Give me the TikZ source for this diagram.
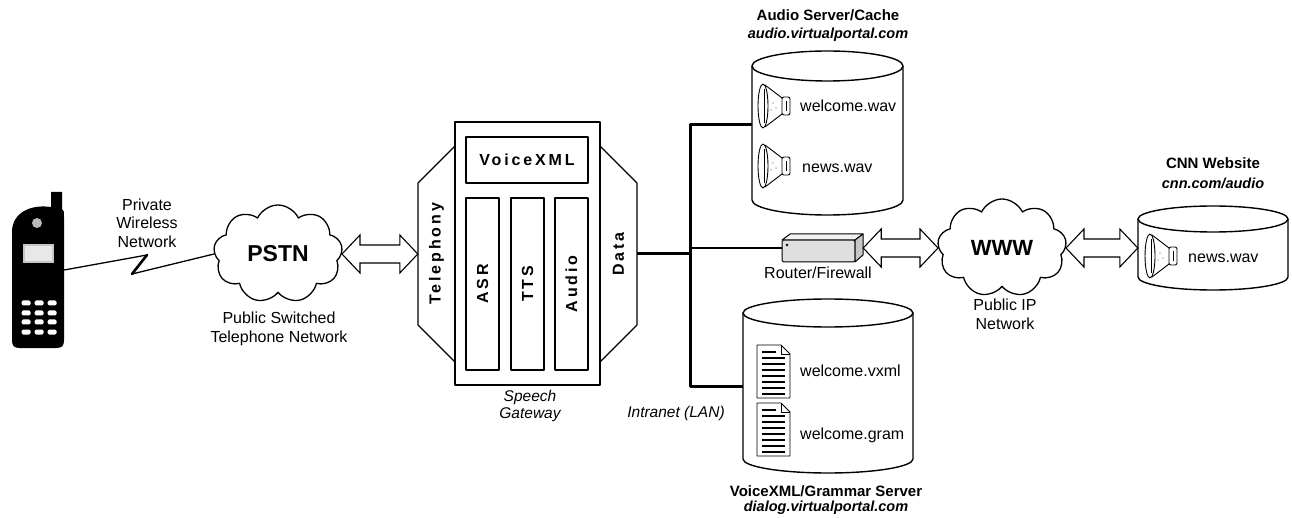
\documentclass[tikz,border=0pt]{standalone}
\usepackage{fontspec}
\setmainfont{Liberation Sans}
\newfontfamily\gwfont[LetterSpace=18]{Liberation Sans}
\usetikzlibrary{shapes.symbols,calc}

\tikzset{
  lbl/.style={font=\fontsize{16}{18.5}\selectfont, align=center, inner sep=0pt},
  ilbl/.style={font=\itshape\fontsize{15.5}{17.5}\selectfont, align=center, inner sep=0pt},
  ttl/.style={font=\bfseries\fontsize{15}{17}\selectfont, inner sep=0pt},
  url/.style={font=\bfseries\itshape\fontsize{14.5}{17}\selectfont, inner sep=0pt},
  netcloud/.style={cloud, draw, line width=1.3pt, cloud puffs=9, cloud puff arc=130,
    cloud ignores aspect, minimum width=129pt, minimum height=98pt, inner sep=0pt},
  gwbox/.style={draw, line width=1.1pt, inner sep=0pt},
  gwtext/.style={font=\gwfont\bfseries\fontsize{16}{18}\selectfont},
  lan/.style={line width=3pt},
  blockarrow/.style={draw, fill=white, line width=1.1pt, line join=miter, to path={
    -- ($(\tikztostart)+(18,-19)$) -- ($(\tikztostart)+(18,-9)$)
    -- ($(\tikztotarget)+(-18,-9)$) -- ($(\tikztotarget)+(-18,-19)$)
    -- (\tikztotarget) -- ($(\tikztotarget)+(-18,19)$) -- ($(\tikztotarget)+(-18,9)$)
    -- ($(\tikztostart)+(18,9)$) -- ($(\tikztostart)+(18,19)$) -- cycle}},
  pics/dbcyl/.style n args={3}{code={
    % #1 half width, #2 half distance between ellipse centres, #3 ellipse y radius
    \node[inner sep=0pt, minimum width={2*#1pt}, minimum height={2*#2pt}] (-body) {};
    \draw[line width=1.4pt, fill=white] (-#1,-#2) -- (-#1,#2)
      arc[start angle=180, end angle=360, x radius=#1pt, y radius=#3pt] -- (#1,-#2);
    \draw[line width=1.4pt] (0,-#2) ellipse[x radius=#1pt, y radius=#3pt];
  }},
  pics/speaker/.style={code={
    \fill[white] (0,-22) -- (19,-8) -- (19,8) -- (0,22) -- cycle;
    \draw[line width=0.9pt] (2,-21) -- (19,-8) (19,8) -- (2,21);
    \draw[line width=0.9pt, fill=white] (0,0) ellipse[x radius=5pt, y radius=22pt];
    \draw[line width=0.5pt] (1.5,-17) -- (1.5,17);
    \draw[line width=0.9pt, fill=white, rounded corners=2pt] (19,-9) rectangle (27,9);
    \draw[line width=0.7pt] (23,-5) -- (23,5);
    \fill[gray!60] (10,-3) circle[radius=0.8pt] (13,2) circle[radius=0.8pt] (8,4) circle[radius=0.8pt];
  }},
  pics/docpage/.style={code={
    \draw[line width=0.9pt, fill=white] (0,0) -- (24,0) -- (33,9) -- (33,53) -- (0,53) -- cycle;
    \draw[line width=0.7pt] (24,0) -- (24,9) -- (33,9);
    \draw[line width=1.1pt] (5,7) -- (19,7);
    \foreach \yy in {13,19,...,49} \draw[line width=1.1pt] (5,\yy) -- (28,\yy);
  }}
}

\begin{document}
\begin{tikzpicture}[x=1pt, y=-1pt, line join=round]
\useasboundingbox (0,0) rectangle (1292,518);
\fill[white] (0,0) rectangle (1292,518);

% ---------- mobile phone ----------
\node[inner sep=0pt, minimum width=52pt, minimum height=156pt] (phone) at (38,270) {};
\fill[black] (12,232) .. controls (12,213) and (30,204) .. (51,207) -- (51,192) -- (62,192)
  -- (62,209) .. controls (64,211) .. (64,217) -- (64,340) .. controls (64,346) and (62,348) .. (56,348)
  -- (20,348) .. controls (14,348) and (12,346) .. (12,340) -- cycle;
\fill[gray!55] (37,223) circle[radius=5pt];
\fill[gray!45] (23,244) rectangle (54,263);
\fill[white, opacity=0.6] (25,246) rectangle (52,261);
\foreach \cx in {26,39,52}
  \foreach \ry in {303,313,322,332}
    \fill[white, rounded corners=1.5pt] (\cx-4.5,\ry-2.5) rectangle (\cx+4.5,\ry+2.5);

\node[lbl] (wireless) at (147,223) {Private\\Wireless\\Network};

% ---------- PSTN ----------
\node[netcloud, font=\bfseries\fontsize{23}{25}\selectfont] (pstn) at (278,254) {PSTN};
\node[lbl] (pstnlbl) at (279,329) {Public Switched\\Telephone Network};

% wireless link with lightning zigzag
\coordinate (z1) at (147,255);
\coordinate (z2) at (132,274);
\draw[line width=1.3pt] (phone.east) -- (z1);
\draw[line width=1.3pt] (z2) -- (pstn.west);
\draw[line width=2.6pt, line cap=round] (z1) -- (z2);

% ---------- speech gateway ----------
\draw[gwbox, fill=white] (418,183) -- (455,146) -- (455,362) -- (418,325) -- cycle;
\draw[gwbox, fill=white] (637,183) -- (600,146) -- (600,362) -- (637,325) -- cycle;
\node[gwbox, minimum width=145pt, minimum height=263pt] (gw) at (527.5,253.5) {};
\node[inner sep=0pt, minimum width=37pt, minimum height=142pt] (tel) at (436.5,254)
  {\rotatebox{90}{\gwfont\bfseries\fontsize{16}{18}\selectfont Telephony}};
\node[inner sep=0pt, minimum width=37pt, minimum height=142pt] (data) at (618.5,254)
  {\rotatebox{90}{\gwfont\bfseries\fontsize{16}{18}\selectfont Data}};
\node[gwbox, gwtext, minimum width=122pt, minimum height=46pt] (vxml) at (527,160) {VoiceXML};
\node[gwbox, minimum width=33pt, minimum height=172pt] (asr) at (482.5,284)
  {\rotatebox{90}{\gwfont\bfseries\fontsize{16}{18}\selectfont ASR}};
\node[gwbox, minimum width=33pt, minimum height=172pt] (tts) at (527.5,284)
  {\rotatebox{90}{\gwfont\bfseries\fontsize{16}{18}\selectfont TTS}};
\node[gwbox, minimum width=33pt, minimum height=172pt] (aud) at (571.5,284)
  {\rotatebox{90}{\gwfont\bfseries\fontsize{16}{18}\selectfont Audio}};
\node[ilbl] (gwlbl) at (530,406) {Speech\\Gateway};

\draw[blockarrow] (pstn.east) to (tel.west);

% ---------- servers ----------
\pic (audsrv) at (827.5,133) {dbcyl={75.5}{67}{15}};
\node[ttl] (audttl) at (828,15) {Audio Server/Cache};
\node[url] (audurl) at (828,35) {audio.virtualportal.com};
\pic at (763,106) {speaker};
\pic at (763,166) {speaker};
\node[lbl, anchor=west] (wav1) at (800,106) {welcome.wav};
\node[lbl, anchor=west] (wav2) at (802,168) {news.wav};

\pic (dlgsrv) at (828,386) {dbcyl={85}{73}{14}};
\pic at (757,345) {docpage};
\pic at (757,403) {docpage};
\node[lbl, anchor=west] (vx) at (800,371) {welcome.vxml};
\node[lbl, anchor=west] (gr) at (800,435) {welcome.gram};
\node[ttl] (dlgttl) at (826,491) {VoiceXML/Grammar Server};
\node[url] (dlgurl) at (826,508) {dialog.virtualportal.com};

% ---------- LAN ----------
\coordinate (bustop) at (690,125);
\coordinate (busbot) at (690,386);
\draw[lan] (audsrv-body.west |- bustop) -- (bustop) -- (busbot) -- (dlgsrv-body.west |- busbot);
\draw[lan] (data.east) -- (data.east -| bustop);
\node[ilbl] (lanlbl) at (676,413) {Intranet (LAN)};

% router / firewall
\node[inner sep=0pt, minimum width=81pt, minimum height=28pt] (router) at (822.5,248) {};
\draw[line width=2pt] (router.west -| bustop) -- (router.west);
\draw[line width=1pt, fill=gray!25, rounded corners=1.5pt] (782,240) -- (855,240) -- (855,262) -- (782,262) -- cycle;
\draw[line width=1pt, fill=gray!10] (782,240) -- (790,234) -- (863,234) -- (855,240) -- cycle;
\draw[line width=1pt, fill=gray!45] (855,240) -- (863,234) -- (863,255) -- (855,262) -- cycle;
\fill[black] (787,245) circle[radius=1.3pt];
\node[lbl] (routerlbl) at (818,273) {Router/Firewall};

% ---------- public internet ----------
\node[netcloud, font=\bfseries\fontsize{22}{24}\selectfont] (www) at (1002,248) {WWW};
\node[lbl] (wwwlbl) at (1005,314.5) {Public IP\\Network};
\draw[blockarrow] (router.east) to (www.west);

\pic (cnn) at (1213,248) {dbcyl={75}{29}{13}};
\node[ttl] (cnnttl) at (1213,163) {CNN Website};
\node[url] (cnnurl) at (1213,183) {cnn.com/audio};
\pic at (1150,256) {speaker};
\node[lbl, anchor=west] (cnnwav) at (1188,258) {news.wav};
\draw[blockarrow] (www.east) to (cnn-body.west);
\end{tikzpicture}
\end{document}
